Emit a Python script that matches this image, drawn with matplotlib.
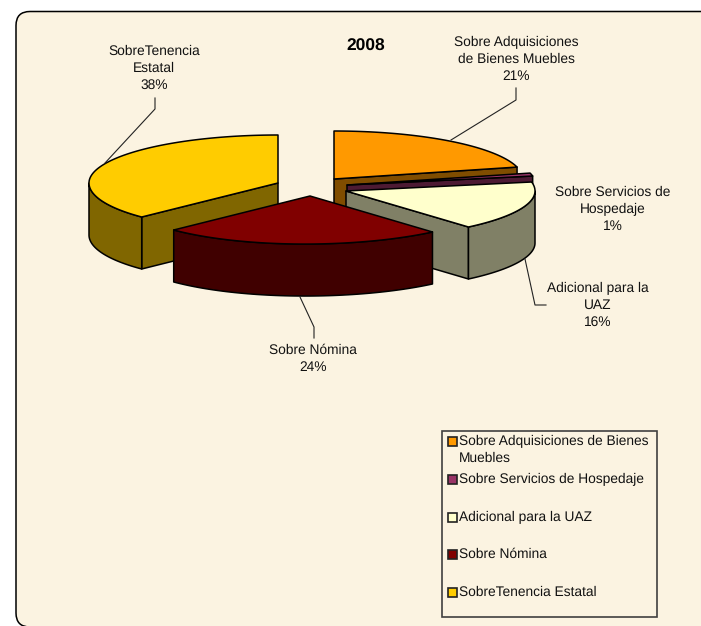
import numpy as np
import matplotlib
matplotlib.use("Agg")
import matplotlib.pyplot as plt
from matplotlib.patches import FancyBboxPatch, Polygon, Rectangle

plt.rcParams['font.family'] = ['Liberation Sans', 'DejaVu Sans']
plt.rcParams['text.hinting'] = 'no_hinting'

# data
legend_names = ["Sobre Adquisiciones de Bienes\nMuebles", "Sobre Servicios de Hospedaje",
                "Adicional para la UAZ", "Sobre Nómina", "SobreTenencia Estatal"]
point_labels = ["Sobre Adquisiciones\nde Bienes Muebles", "Sobre Servicios de\nHospedaje",
                "Adicional para la\nUAZ", "Sobre Nómina", "SobreTenencia\nEstatal"]
values = [21, 1, 16, 24, 38]
title = "2008"

# style
top_colors = ["#FF9900", "#993366", "#FFFFCC", "#800000", "#FFCC00"]
side_colors = ["#804D00", "#4D1A33", "#808066", "#400000", "#806600"]
BG = "#FBF3E1"
FS = 9.9

# layout, in picture pixels
RX, RY, DEPTH, SKEW, TILT = 189, 48, 52, 13, 2
centers = [(334, 179), (347, 185), (346, 191), (310, 196), (278, 183)]
draw_order = [0, 1, 2, 4, 3]
label_pos = [(516, 59), (613, 209), (598, 305), (313, 359), (154, 68)]
leaders = [[(516, 88), (516, 100), (451, 140)],
           None,
           [(546, 305), (535, 305), (525, 259)],
           [(314, 338), (314, 327), (300, 297)],
           [(155, 98), (155, 109), (105, 163)]]
legend_y = [441, 479, 517, 554, 592]

fig = plt.figure(figsize=(7.01, 6.26), dpi=100, facecolor="white")
ax = fig.add_axes([0, 0, 1, 1])
ax.set_xlim(0, 701)
ax.set_ylim(626, 0)
ax.axis("off")

ax.add_patch(FancyBboxPatch((16, 11.5), 760, 615.5, boxstyle="round,pad=0,rounding_size=14",
                            fc=BG, ec="black", lw=1.1))


def rim(c, t):
    t = np.radians(t)
    u, v = np.sin(t), -np.cos(t)
    x = c[0] + RX * u - SKEW * np.clip(v, 0, None) ** 2
    y = c[1] + RY * v + TILT * u * np.clip(v, 0, None)
    return np.column_stack([x, y])


def face(pts, color):
    ax.add_patch(Polygon(pts, closed=True, fc=color, ec="black", lw=1.1, joinstyle="round"))


def wall(c, t, color):
    p = rim(c, np.array([t]))[0]
    face([c, p, (p[0], p[1] + DEPTH), (c[0], c[1] + DEPTH)], color)


edges = np.cumsum([0] + values) / sum(values) * 360
for i in draw_order:
    c, ts, te = centers[i], edges[i], edges[i + 1]
    if 180 < ts < 360:
        wall(c, ts, side_colors[i])
    if 0 < te < 180:
        wall(c, te, side_colors[i])
    lo, hi = max(ts, 90), min(te, 270)
    if lo < hi:
        arc = rim(c, np.linspace(lo, hi, 60))
        face(np.vstack([arc, arc[::-1] + [0, DEPTH]]), side_colors[i])
    arc = rim(c, np.linspace(ts, te, 120))
    face(np.vstack([[c], arc]), top_colors[i])

for line in leaders:
    if line:
        xs, ys = zip(*line)
        ax.plot(xs, ys, color="#222222", lw=0.8)

for name, val, pos in zip(point_labels, values, label_pos):
    ax.text(pos[0], pos[1], f"{name}\n{val}%", ha="center", va="center", fontsize=FS,
            color="#111111", linespacing=1.38)

ax.text(366, 46.5, title, ha="center", va="center", fontsize=12.5, fontweight="bold", color="black")

# legend
ax.add_patch(Rectangle((442, 431), 215, 186, fc="none", ec="#404040", lw=1.2))
for name, col, y in zip(legend_names, top_colors, legend_y):
    ax.add_patch(Rectangle((447.5, y - 4.5), 9, 9, fc=col, ec="#222222", lw=1.2))
    ax.text(459, y + 0.5, name.split("\n")[0], va="center", fontsize=FS, color="#111111")
    if "\n" in name:
        ax.text(459, y + 17, name.split("\n")[1], va="center", fontsize=FS, color="#111111")

fig.savefig("out.png", dpi=100, facecolor="white")
